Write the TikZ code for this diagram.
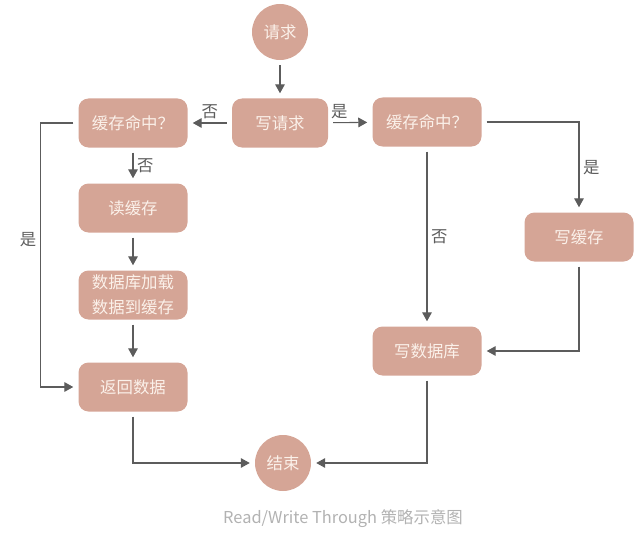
\documentclass[tikz,border=0pt]{standalone}
\usepackage{fontspec}
\newfontfamily\cjk{Noto Sans CJK SC}
\usetikzlibrary{arrows.meta, positioning, calc}
\definecolor{boxfill}{HTML}{D5A596}
\definecolor{boxtext}{HTML}{FBF1EA}
\definecolor{linegray}{HTML}{5C5C5C}

\begin{document}
\begin{tikzpicture}[
  x=0.3mm, y=-0.3mm,
  font=\cjk\fontsize{14}{21}\selectfont,
  proc/.style={
    fill=boxfill, text=boxtext, rounded corners=3mm,
    minimum width=32.7mm, minimum height=14.7mm, align=center, inner sep=2pt
  },
  term/.style={
    circle, fill=boxfill, text=boxtext, minimum size=16.8mm, inner sep=0pt
  },
  lbl/.style={text=linegray, inner sep=3pt},
  ax/.style={-{Triangle[length=2.7mm, width=2.9mm]}, draw=linegray,
    line width=0.9pt, shorten <=1.5mm, shorten >=1.5mm}
]
\useasboundingbox (0,0) rectangle (642,543);

% ---- start, write request and the two cache checks
\node[term] (req) at (280,32) {请求};
\node[proc, minimum width=28.8mm] (wreq) at (280,123) {写请求};
\node[proc] (hitL) at (133,123) {缓存命中？};
\node[proc] (hitR) at (427,122) {缓存命中？};

% ---- read path, left column
\node[proc] (rcache) at (133,208) {读缓存};
\node[proc] (load)   at (133,295) {数据库加载\\数据到缓存};
\node[proc] (ret)    at (133,387) {返回数据};

% ---- write path, right side
\node[proc] (wcache) at (579,237) {写缓存};
\node[proc] (wdb)    at (427,351) {写数据库};
\node[term] (end)    at (283,463) {结束};

% ---- connectors
\draw[ax] (req) -- (wreq);
\draw[ax] (wreq) -- node[lbl, above] {否} (hitL);
\draw[ax] (wreq) -- node[lbl, above, pos=0.25] {是} (hitR);

\draw[ax] (hitL) -- node[lbl, right] {否} (rcache);
\foreach \a/\b in {rcache/load, load/ret}
  \draw[ax] (\a) -- (\b);
\draw[ax] (hitL.west) -- ++(-38,0) |- node[lbl, left, pos=0.22] {是} (ret.west);
\draw[ax] (ret) |- (end);

\draw[ax] (hitR) -- node[lbl, right] {否} (wdb);
\draw[ax] (hitR.east) -| node[lbl, right, pos=0.75] {是} (wcache);
\draw[ax] (wcache) |- (wdb);
\draw[ax] (wdb) |- (end);

% ---- caption
\node[text=black!30] (cap) at (343,519) {Read/Write Through 策略示意图};

\end{tikzpicture}
\end{document}
